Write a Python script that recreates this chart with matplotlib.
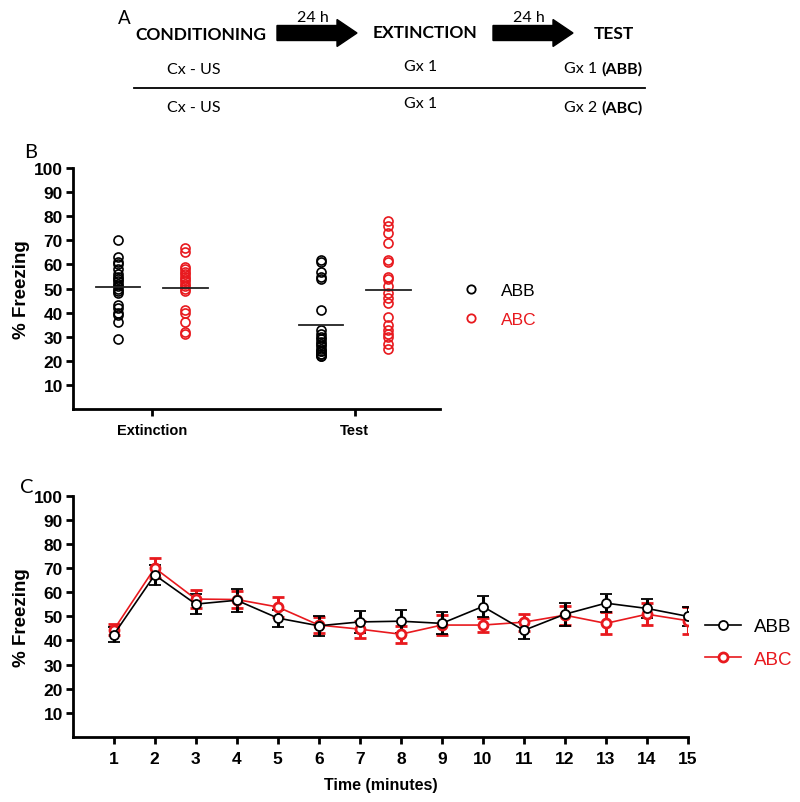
import matplotlib
matplotlib.use("Agg")
import matplotlib.pyplot as plt
import numpy as np
from matplotlib.lines import Line2D

plt.rcParams['font.family'] = ['Liberation Sans', 'DejaVu Sans']

# ---------------- data ----------------
groups_b = ["Extinction", "Test"]
ext_abb = [70, 63, 61, 60, 58, 56, 55, 54, 53, 52, 51, 50, 49, 48, 43, 42, 40, 39, 36, 29]
ext_abc = [67, 65, 59, 58, 57, 56, 55, 54, 53, 52, 51, 50, 49, 41, 40, 36, 32, 31]
test_abb = [62, 61, 57, 55, 54, 41, 33, 31, 30, 29, 28, 27, 26, 25, 24, 24, 23, 23, 22, 22]
test_abc = [78, 76, 73, 69, 62, 61, 55, 54, 51, 48, 46, 44, 38, 35, 33, 31, 30, 27, 25]

minutes = list(range(1, 16))
abb_mean = [42.4, 67.2, 55.1, 56.7, 49.3, 46.1, 47.7, 48.0, 47.1, 54.1, 44.2, 50.9, 55.5, 53.3, 50.0]
abb_sem = [3.2, 4.0, 4.3, 4.8, 3.5, 4.1, 4.4, 4.7, 4.6, 4.3, 3.5, 4.8, 3.8, 4.0, 4.1]
abc_mean = [44.4, 70.1, 57.2, 57.0, 53.9, 46.4, 44.7, 42.6, 46.4, 46.4, 47.6, 50.5, 47.1, 50.9, 48.2]
abc_sem = [2.3, 4.0, 3.9, 3.5, 4.0, 3.5, 3.5, 3.5, 4.0, 3.0, 3.5, 4.0, 4.6, 4.6, 5.5]

yticks = list(range(10, 101, 10))
series_names = ["ABB", "ABC"]
colors = {"ABB": "black", "ABC": "#e8191e"}

fig = plt.figure(figsize=(8.0, 8.03), dpi=100)

# ---------------- panel A (pixel overlay) ----------------
ax0 = fig.add_axes([0, 0, 1, 1])
ax0.set_xlim(0, 800)
ax0.set_ylim(803, 0)
ax0.axis("off")
fa = ['Lato', 'DejaVu Sans']
ax0.text(118, 18, "A", fontsize=13.5, family=fa, va="center", ha="left")
ax0.text(201, 35, "CONDITIONING", fontsize=12.5, family=fa, weight="bold", va="center", ha="center")
ax0.text(425, 33, "EXTINCTION", fontsize=12.5, family=fa, weight="bold", va="center", ha="center")
ax0.text(614, 34, "TEST", fontsize=12.5, family=fa, weight="bold", va="center", ha="center")
for x0 in (277, 493):
    ax0.arrow(x0, 34, 80, 0, width=15, head_width=27, head_length=20,
              length_includes_head=True, color="black")
ax0.text(313, 18, "24 h", fontsize=11.5, family=fa, va="center", ha="center")
ax0.text(529, 18, "24 h", fontsize=11.5, family=fa, va="center", ha="center")
ax0.text(194, 70, "Cx - US", fontsize=11.5, family=fa, va="center", ha="center")
ax0.text(421, 67, "Gx 1", fontsize=11.5, family=fa, va="center", ha="center")
ax0.text(564, 69, "Gx 1", fontsize=11.5, family=fa, va="center", ha="left")
ax0.text(643, 69, "(ABB)", fontsize=11.5, family=fa, weight="bold", va="center", ha="right")
ax0.plot([134, 645], [89, 89], color="black", lw=1.3)
ax0.text(194, 108, "Cx - US", fontsize=11.5, family=fa, va="center", ha="center")
ax0.text(421, 104, "Gx 1", fontsize=11.5, family=fa, va="center", ha="center")
ax0.text(564, 108, "Gx 2", fontsize=11.5, family=fa, va="center", ha="left")
ax0.text(643, 108, "(ABC)", fontsize=11.5, family=fa, weight="bold", va="center", ha="right")
ax0.text(24, 152, "B", fontsize=14.5, family=fa, va="center", ha="left")
ax0.text(20, 488, "C", fontsize=14.5, family=fa, va="center", ha="left")


def style_axis(ax, xlabsize):
    ax.spines["top"].set_visible(False)
    ax.spines["right"].set_visible(False)
    ax.spines["left"].set_linewidth(2)
    ax.spines["bottom"].set_linewidth(2)
    ax.tick_params(width=2, length=5)
    ax.tick_params(axis="y", labelsize=12.5, pad=2)
    ax.tick_params(axis="x", labelsize=xlabsize, pad=5)
    ax.set_ylim(0, 100)
    ax.set_yticks(yticks)
    for lab in ax.get_yticklabels() + ax.get_xticklabels():
        lab.set_fontweight("bold")


# ---------------- panel B ----------------
axb = fig.add_axes([0.0909, 0.4894, 0.459, 0.300])
axb.patch.set_alpha(0)
offsets = {"ABB": -0.167, "ABC": 0.165}
data_b = {"ABB": [ext_abb, test_abb], "ABC": [ext_abc, test_abc]}
for name in series_names:
    for gi, vals in enumerate(data_b[name]):
        xc = gi + offsets[name]
        axb.plot([xc] * len(vals), vals, "o", ms=6.5, mfc="none",
                 mec=colors[name], mew=1.2, linestyle="none")
        axb.plot([xc - 0.11, xc + 0.11], [np.mean(vals)] * 2, color="#222222", lw=1.3)
axb.set_xlim(-0.39, 1.42)
axb.set_xticks([0, 1])
axb.set_xticklabels(groups_b)
style_axis(axb, 10.5)
axb.set_ylabel("% Freezing", fontsize=13.5, fontweight="bold", labelpad=3)
hb = [Line2D([], [], marker="o", ls="none", ms=6, mfc="none", mec=colors[n], mew=1.3)
      for n in series_names]
legb = fig.legend(hb, series_names, loc="center left",
                  bbox_to_anchor=(447 / 800, 1 - 306 / 803), frameon=False,
                  fontsize=12.5, handlelength=1.0, handletextpad=1.2, labelspacing=0.75)
for t, n in zip(legb.get_texts(), series_names):
    t.set_color(colors[n])

# ---------------- panel C ----------------
axc = fig.add_axes([0.0909, 0.0812, 0.769, 0.2999])
axc.patch.set_alpha(0)
series_c = {"ABB": (abb_mean, abb_sem), "ABC": (abc_mean, abc_sem)}
for name in ["ABC", "ABB"]:
    m, s = series_c[name]
    axc.errorbar(minutes, m, yerr=s, color=colors[name], lw=1.2, elinewidth=2.2,
                 capsize=4, capthick=2.2, marker="o", ms=6.5, mfc="white",
                 mec=colors[name], mew=1.3 if name == "ABB" else 2.0)
axc.set_xlim(0, 15)
axc.set_xticks(minutes)
style_axis(axc, 12.5)
axc.set_ylabel("% Freezing", fontsize=13.5, fontweight="bold", labelpad=3)
axc.set_xlabel("Time (minutes)", fontsize=11.5, fontweight="bold", labelpad=8)
hc = [Line2D([], [], color=colors[n], lw=1.2, marker="o", ms=6.5, mfc="white",
             mec=colors[n], mew=1.3 if n == "ABB" else 2.0) for n in series_names]
legc = fig.legend(hc, series_names, loc="center left",
                  bbox_to_anchor=(688 / 800, 1 - 644 / 803), frameon=False,
                  fontsize=13.5, handlelength=1.9, handletextpad=0.7, labelspacing=0.8)
for t, n in zip(legc.get_texts(), series_names):
    t.set_color(colors[n])

fig.savefig("out.png", dpi=100)
